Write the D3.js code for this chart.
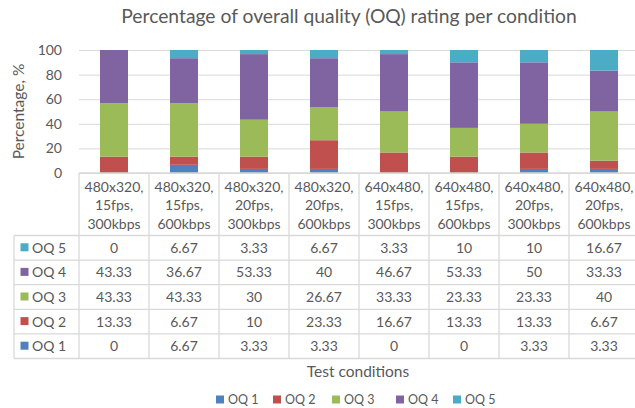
<!DOCTYPE html>
<html>
<head>
<meta charset="utf-8">
<script src="https://cdn.jsdelivr.net/npm/d3@7"></script>
<style>
	body { margin: 0; background: #fff; }
	svg { font-family: Lato, sans-serif; fill: #595959; }
</style>
</head>
<body>
<svg id="chart" width="635" height="408"></svg>
<script>
/* global d3 */

const conditions = [
	['480x320,', '15fps,', '300kbps'],
	['480x320,', '15fps,', '600kbps'],
	['480x320,', '20fps,', '300kbps'],
	['480x320,', '20fps,', '600kbps'],
	['640x480,', '15fps,', '300kbps'],
	['640x480,', '15fps,', '600kbps'],
	['640x480,', '20fps,', '300kbps'],
	['640x480,', '20fps,', '600kbps'],
];

const seriesNames = ['OQ 1', 'OQ 2', 'OQ 3', 'OQ 4', 'OQ 5'];
const seriesColors = ['#4f81bd', '#c0504d', '#9bbb59', '#8064a2', '#4bacc6'];

const oq1 = [0, 6.67, 3.33, 3.33, 0, 0, 3.33, 3.33];
const oq2 = [13.33, 6.67, 10, 23.33, 16.67, 13.33, 13.33, 6.67];
const oq3 = [43.33, 43.33, 30, 26.67, 33.33, 23.33, 23.33, 40];
const oq4 = [43.33, 36.67, 53.33, 40, 46.67, 53.33, 50, 33.33];
const oq5 = [0, 6.67, 3.33, 6.67, 3.33, 10, 10, 16.67];

const yTicks = [0, 20, 40, 60, 80, 100];

const seriesValues = [oq1, oq2, oq3, oq4, oq5];

const svg = d3.select('#chart');

const plotLeft = 79;
const plotRight = 639;
const plotTop = 50;
const plotBottom = 173;
const tableLeft = 14;
const headerBottom = 235.5;
const rowHeight = 24.6;
const gridColor = '#d9d9d9';

const keys = conditions.map((c, i) => i);

const x = d3.scaleBand()
	.domain(keys)
	.range([plotLeft, plotRight])
	.paddingInner(0)
	.paddingOuter(0);

const y = d3.scaleLinear()
	.domain([0, 100])
	.range([plotBottom, plotTop]);

// title
svg.append('text')
	.attr('x', 349)
	.attr('y', 23)
	.attr('text-anchor', 'middle')
	.style('font-size', '19.3px')
	.text('Percentage of overall quality (OQ) rating per condition');

// gridlines
const grid = svg.append('g')
	.attr('transform', `translate(${plotLeft},0)`)
	.call(d3.axisLeft(y).tickValues(yTicks).tickSize(-(plotRight - plotLeft)).tickFormat(''));
grid.select('.domain').remove();
grid.selectAll('line').attr('stroke', gridColor);

// y axis labels
const yAxis = svg.append('g')
	.attr('transform', `translate(${plotLeft},0)`)
	.call(d3.axisLeft(y).tickValues(yTicks).tickSize(0).tickPadding(17));
yAxis.select('.domain').remove();
yAxis.selectAll('text')
	.attr('fill', '#595959')
	.style('font-family', 'Lato, sans-serif')
	.style('font-size', '14px');

svg.append('text')
	.attr('transform', `translate(24,${(plotTop + plotBottom) / 2}) rotate(-90)`)
	.attr('text-anchor', 'middle')
	.style('font-size', '15.5px')
	.text('Percentage, %');

// stacked bars
const tableData = keys.map(i => {
	const row = {key: i};
	seriesNames.forEach((s, j) => { row[s] = seriesValues[j][i]; });
	return row;
});

const stacked = d3.stack().keys(seriesNames)(tableData);
const barWidth = x.bandwidth() * 0.4;

svg.append('g')
	.selectAll('g')
	.data(stacked)
	.enter().append('g')
	.attr('fill', (d, i) => seriesColors[i])
	.selectAll('rect')
	.data(d => d)
	.enter().append('rect')
	.attr('x', d => x(d.data.key) + (x.bandwidth() - barWidth) / 2)
	.attr('y', d => y(Math.min(d[1], 100)))
	.attr('width', barWidth)
	.attr('height', d => Math.max(0, y(d[0]) - y(Math.min(d[1], 100))));

// data table
const table = svg.append('g')
	.attr('stroke', gridColor)
	.attr('stroke-width', 1.3);

const rowOrder = [4, 3, 2, 1, 0];
const tableBottom = headerBottom + rowOrder.length * rowHeight;

// horizontal lines
table.append('line')
	.attr('x1', plotLeft).attr('x2', plotRight)
	.attr('y1', plotBottom).attr('y2', plotBottom);
d3.range(rowOrder.length + 1).forEach(r => {
	table.append('line')
		.attr('x1', tableLeft).attr('x2', plotRight)
		.attr('y1', headerBottom + r * rowHeight).attr('y2', headerBottom + r * rowHeight);
});

// vertical lines
keys.forEach(i => {
	table.append('line')
		.attr('x1', x(i)).attr('x2', x(i))
		.attr('y1', plotBottom).attr('y2', tableBottom);
});
table.append('line')
	.attr('x1', plotRight).attr('x2', plotRight)
	.attr('y1', plotBottom).attr('y2', tableBottom);
table.append('line')
	.attr('x1', tableLeft).attr('x2', tableLeft)
	.attr('y1', headerBottom).attr('y2', tableBottom);

// header labels
const header = svg.append('g')
	.style('font-size', '14px')
	.attr('text-anchor', 'middle');

conditions.forEach((lines, i) => {
	const t = header.append('text')
		.attr('x', x(i) + x.bandwidth() / 2)
		.attr('y', 192);
	lines.forEach((l, k) => {
		t.append('tspan')
			.attr('x', x(i) + x.bandwidth() / 2)
			.attr('dy', k === 0 ? 0 : 18.3)
			.text(l);
	});
});

// table rows
rowOrder.forEach((s, r) => {
	const cy = headerBottom + r * rowHeight + rowHeight / 2;
	svg.append('rect')
		.attr('x', 20.5)
		.attr('y', cy - 4.5)
		.attr('width', 8)
		.attr('height', 8)
		.attr('fill', seriesColors[s]);
	svg.append('text')
		.attr('x', 32)
		.attr('y', cy)
		.attr('dy', '0.35em')
		.style('font-size', '14px')
		.text(seriesNames[s]);
	keys.forEach(i => {
		svg.append('text')
			.attr('x', x(i) + x.bandwidth() / 2)
			.attr('y', cy)
			.attr('dy', '0.35em')
			.attr('text-anchor', 'middle')
			.style('font-size', '14px')
			.text(seriesValues[s][i]);
	});
});

// x axis title
svg.append('text')
	.attr('x', 358)
	.attr('y', 372)
	.attr('dy', '0.35em')
	.attr('text-anchor', 'middle')
	.style('font-size', '15.5px')
	.text('Test conditions');

// legend
const legendX = [216, 273, 332, 396, 453];
const legend = svg.append('g')
	.selectAll('g')
	.data(seriesNames)
	.enter().append('g')
	.attr('transform', (d, i) => `translate(${legendX[i]},400)`);

legend.append('rect')
	.attr('x', 0)
	.attr('y', -4.5)
	.attr('width', 8)
	.attr('height', 8)
	.attr('fill', (d, i) => seriesColors[i]);

legend.append('text')
	.attr('x', 12)
	.attr('dy', '0.35em')
	.style('font-size', '12.5px')
	.text(d => d);
</script>
</body>
</html>
